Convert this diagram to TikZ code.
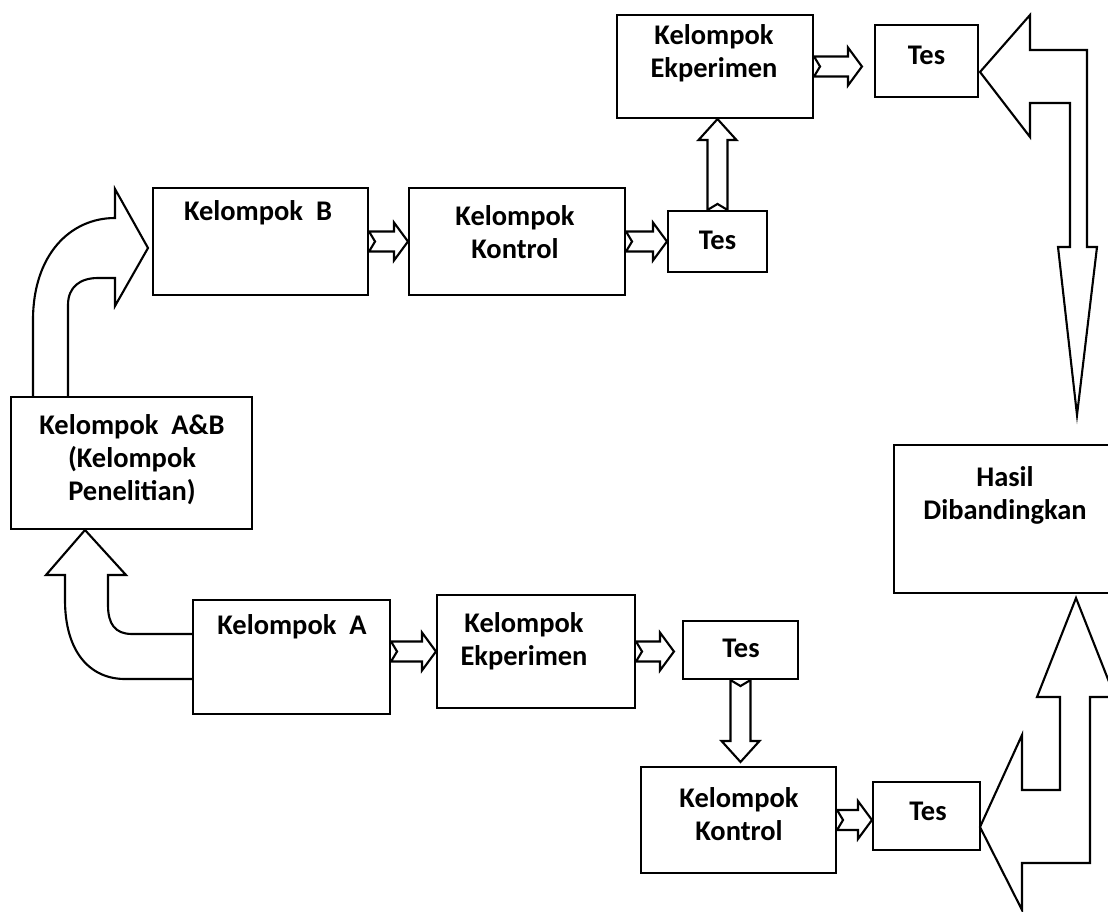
\documentclass[tikz,border=0pt]{standalone}
\usepackage{fontspec}
\setmainfont{Carlito}
\usetikzlibrary{calc}

\tikzset{
  box/.style={draw, line width=1.2pt, inner sep=0pt},
  txt/.style={align=center, inner sep=0pt, font=\bfseries\fontsize{16.2}{18.8}\selectfont},
  bigarrow/.style={draw, line width=1.2pt, line join=miter},
  fat/.style={draw, line width=1.2pt, line join=miter, to path={
    ($(\tikztostart)!0.2cm!90:(\tikztotarget)$)
    -- ($($(\tikztotarget)!#1!(\tikztostart)$)!0.2cm!-90:(\tikztostart)$)
    -- ($($(\tikztotarget)!#1!(\tikztostart)$)!0.38cm!-90:(\tikztostart)$)
    -- (\tikztotarget)
    -- ($($(\tikztotarget)!#1!(\tikztostart)$)!0.38cm!90:(\tikztostart)$)
    -- ($($(\tikztotarget)!#1!(\tikztostart)$)!0.2cm!90:(\tikztostart)$)
    -- ($(\tikztostart)!0.2cm!-90:(\tikztotarget)$)
    -- ($(\tikztostart)!0.12cm!(\tikztotarget)$)
    -- cycle}},
  fat/.default=0.28cm
}

\begin{document}
\begin{tikzpicture}[x=0.02cm, y=-0.02cm]
  \useasboundingbox (0,0) rectangle (1108,912);

  % Boxes (pixel grid, y going down)
  \node[box, minimum width=4.82cm, minimum height=2.64cm] (ab) at (131.5,463) {};
  \node[box, minimum width=4.3cm, minimum height=2.14cm] (kb) at (260.5,241.5) {};
  \node[box, minimum width=4.32cm, minimum height=2.14cm] (kon1) at (517,241.5) {};
  \node[box, minimum width=1.98cm, minimum height=1.22cm] (tes1) at (717.5,241.5) {};
  \node[box, minimum width=3.92cm, minimum height=2.06cm] (eks1) at (715,66.5) {};
  \node[box, minimum width=2.06cm, minimum height=1.44cm] (tes2) at (926.5,61) {};
  \node[box, minimum width=4.44cm, minimum height=2.96cm] (hasil) at (1005,519) {};
  \node[box, minimum width=3.94cm, minimum height=2.28cm] (ka) at (291.5,657) {};
  \node[box, minimum width=3.96cm, minimum height=2.26cm] (eks2) at (536,651.5) {};
  \node[box, minimum width=2.3cm, minimum height=1.16cm] (tes3) at (740.5,650) {};
  \node[box, minimum width=3.9cm, minimum height=2.12cm] (kon2) at (738.5,820) {};
  \node[box, minimum width=2.14cm, minimum height=1.36cm] (tes4) at (926.5,816) {};

  % Box texts
  \node[txt] (ab-t) at (132,460) {Kelompok~ A\&B\\(Kelompok\\Penelitian)};
  \node[txt] (kb-t) at (258,213) {Kelompok~ B};
  \node[txt] (kon1-t) at (515,232) {Kelompok\\Kontrol};
  \node[txt] (tes1-t) at (717.5,240) {Tes};
  \node[txt] (eks1-t) at (714,53) {Kelompok\\Ekperimen};
  \node[txt] (tes2-t) at (926.5,55) {Tes};
  \node[txt] (hasil-t) at (1005,495) {Hasil\\Dibandingkan};
  \node[txt] (ka-t) at (292,627) {Kelompok~ A};
  \node[txt] (eks2-t) at (524,641) {Kelompok\\Ekperimen};
  \node[txt] (tes3-t) at (741,648) {Tes};
  \node[txt] (kon2-t) at (739,814) {Kelompok\\Kontrol};
  \node[txt] (tes4-t) at (928,811) {Tes};

  % Small block arrows
  \draw[fat] (kb.east) to (kon1.west);
  \draw[fat] (kon1.east) to (tes1.west);
  \draw[fat=0.42cm] (tes1.north) to (tes1.north |- eks1.south);
  \draw[fat] (eks1.east) to ($(eks1.east -| tes2.west)+(-12,0)$);
  \draw[fat] (ka.east |- eks2.west) to (eks2.west);
  \draw[fat] (eks2.east) to ($(eks2.east -| tes3.west)+(-8,0)$);
  \draw[fat=0.42cm] (tes3.south) to ($(tes3.south |- kon2.north)+(0,-4)$);
  \draw[fat] (kon2.east) to (kon2.east -| tes4.west);

  % Curved arrow A&B -> Kelompok B
  \draw[bigarrow] (33,397) -- (33,320) .. controls (33,255) and (70,218) .. (115,218)
    -- (115,189) -- (148,248) -- (115,306) -- (115,278) -- (98,278)
    .. controls (80,278) and (68,287) .. (68,305) -- (68,397);

  % Curved arrow Kelompok A -> A&B
  \draw[bigarrow] (193,679) -- (125,679) .. controls (90,679) and (65,652) .. (65,600)
    -- (65,575) -- (46,575) -- (85,530) -- (126,575) -- (108,575) -- (108,605)
    .. controls (108,624) and (115,634) .. (132,634) -- (193,634);

  % Tes -> Hasil (top)
  \draw[bigarrow] (980,72) -- (1030,15) -- (1030,50) -- (1087,50) -- (1087,247)
    -- (1097,247) -- (1077,415) -- (1058,247) -- (1070,247) -- (1070,103)
    -- (1030,103) -- (1030,137) -- cycle;

  % Tes -> Hasil (bottom)
  \draw[bigarrow] (980,827) -- (1022,735) -- (1022,790) -- (1060,790) -- (1060,697)
    -- (1037,697) -- (1076,598) -- (1115,697) -- (1090,697) -- (1090,863)
    -- (1022,863) -- (1022,910) -- cycle;
\end{tikzpicture}
\end{document}
